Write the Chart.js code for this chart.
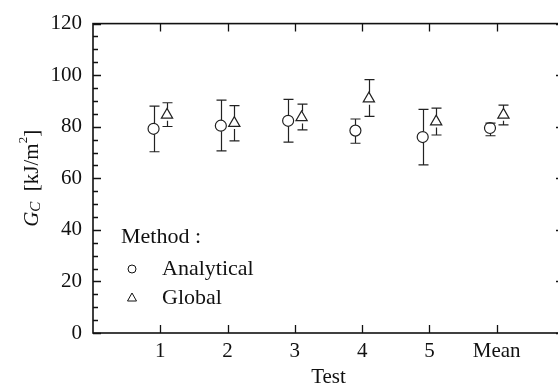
<!DOCTYPE html>
<html lang="en">
<head>
    <meta charset="UTF-8">
    <title>G_C per test</title>
    <script src="https://cdn.jsdelivr.net/npm/chart.js"></script>
    <style>
        html, body { margin: 0; padding: 0; background: white; overflow: hidden; }
        #wrap { width: 580px; height: 390px; }
    </style>
</head>
<body>
<div id="wrap"><canvas id="gcChart" width="580" height="390"></canvas></div>
<script>
    // categories on the x axis
    const categories = ['1', '2', '3', '4', '5', 'Mean'];

    // Analytical method : value and error bar limits
    const analyticalVal  = [79.2, 80.4, 82.3, 78.5, 76.0, 79.5];
    const analyticalLow  = [70.3, 70.6, 74.0, 73.6, 65.2, 76.5];
    const analyticalHigh = [88.0, 90.3, 90.6, 83.0, 86.7, 81.4];

    // Global method
    const globalVal  = [84.6, 81.4, 83.6, 90.9, 82.0, 84.6];
    const globalLow  = [80.1, 74.5, 78.8, 84.0, 76.8, 80.7];
    const globalHigh = [89.3, 88.2, 88.8, 98.3, 87.2, 88.4];

    const yTicks = [0, 20, 40, 60, 80, 100, 120];
    const serif = "'Liberation Serif', 'DejaVu Serif', serif";
    const ink = '#111';

    function points(vals, shift) {
        return vals.map((v, i) => ({ x: i + 1 + shift, y: v }));
    }

    // error bars, spines with inward ticks, y title and legend
    const decorations = {
        id: 'decorations',
        afterDatasetsDraw(chart) {
            const ctx = chart.ctx;
            const xs = chart.scales.x, ys = chart.scales.y;
            const a = chart.chartArea;
            ctx.save();
            ctx.strokeStyle = '#222';
            ctx.lineWidth = 1.2;

            // error bars
            const bars = [
                [-0.1, analyticalLow, analyticalHigh, analyticalVal, 5.5],
                [0.1, globalLow, globalHigh, globalVal, 6]
            ];
            bars.forEach(([shift, lo, hi, val, r]) => {
                lo.forEach((l, i) => {
                    const px = Math.round(xs.getPixelForValue(i + 1 + shift)) + 0.5;
                    const pl = ys.getPixelForValue(l);
                    const ph = ys.getPixelForValue(hi[i]);
                    const pv = ys.getPixelForValue(val[i]);
                    ctx.beginPath();
                    if (ph < pv - r) { ctx.moveTo(px, ph); ctx.lineTo(px, pv - r); }
                    if (pl > pv + r) { ctx.moveTo(px, pv + r); ctx.lineTo(px, pl); }
                    ctx.moveTo(px - 5, ph); ctx.lineTo(px + 5, ph);
                    ctx.moveTo(px - 5, pl); ctx.lineTo(px + 5, pl);
                    ctx.stroke();
                });
            });

            // frame
            ctx.strokeStyle = ink;
            ctx.lineWidth = 1.6;
            ctx.strokeRect(a.left, a.top, a.right - a.left, a.bottom - a.top);

            ctx.lineWidth = 1.3;
            ctx.beginPath();
            categories.forEach((c, i) => {
                const px = Math.round(xs.getPixelForValue(i + 1)) + 0.5;
                ctx.moveTo(px, a.bottom); ctx.lineTo(px, a.bottom - 8);
                ctx.moveTo(px, a.top); ctx.lineTo(px, a.top + 8);
            });
            for (let v = 0; v <= 120; v += 5) {
                const py = Math.round(ys.getPixelForValue(v)) + 0.5;
                const len = v % 20 === 0 ? 8 : 5;
                ctx.moveTo(a.left, py); ctx.lineTo(a.left + len, py);
                ctx.moveTo(a.right, py); ctx.lineTo(a.right - len, py);
            }
            ctx.stroke();

            // y title : G_C [kJ/m^2]
            ctx.fillStyle = ink;
            ctx.translate(32, (a.top + a.bottom) / 2);
            ctx.rotate(-Math.PI / 2);
            ctx.textBaseline = 'middle';
            const parts = [
                ['italic 21px ' + serif, 'G', 0],
                ['italic 15px ' + serif, 'C', 4],
                ['21px ' + serif, '  [kJ/m', 0],
                ['13px ' + serif, '2', -8],
                ['21px ' + serif, ']', 0]
            ];
            let total = 0;
            parts.forEach(p => { ctx.font = p[0]; total += ctx.measureText(p[1]).width; });
            let cx = -total / 2;
            parts.forEach(p => {
                ctx.font = p[0];
                ctx.fillText(p[1], cx, p[2]);
                cx += ctx.measureText(p[1]).width;
            });
            ctx.setTransform(1, 0, 0, 1, 0, 0);

            // legend
            const lx = a.left + 28, ly = a.bottom - 96;
            ctx.font = '22px ' + serif;
            ctx.textBaseline = 'middle';
            ctx.textAlign = 'left';
            ctx.fillText('Method :', lx, ly);
            ctx.lineWidth = 1;
            ctx.strokeStyle = ink;
            ctx.beginPath();
            ctx.arc(lx + 11, ly + 32, 4, 0, Math.PI * 2);
            ctx.stroke();
            ctx.fillText('Analytical', lx + 41, ly + 32);
            ctx.beginPath();
            ctx.moveTo(lx + 11, ly + 56);
            ctx.lineTo(lx + 15.5, ly + 64);
            ctx.lineTo(lx + 6.5, ly + 64);
            ctx.closePath();
            ctx.stroke();
            ctx.fillText('Global', lx + 41, ly + 61);
            ctx.restore();
        }
    };

    new Chart(document.getElementById('gcChart'), {
        type: 'scatter',
        data: {
            datasets: [
                {
                    label: 'Analytical',
                    data: points(analyticalVal, -0.1),
                    pointStyle: 'circle',
                    pointRadius: 5.5,
                    pointBackgroundColor: 'white',
                    pointBorderColor: '#222',
                    pointBorderWidth: 1.2
                },
                {
                    label: 'Global',
                    data: points(globalVal, 0.1),
                    pointStyle: 'triangle',
                    pointRadius: 6.5,
                    pointBackgroundColor: 'white',
                    pointBorderColor: '#222',
                    pointBorderWidth: 1.2
                }
            ]
        },
        options: {
            responsive: false,
            animation: false,
            layout: { padding: { top: 19, right: 16, left: 0, bottom: 0 } },
            plugins: { legend: { display: false }, tooltip: { enabled: false } },
            scales: {
                x: {
                    type: 'linear',
                    min: 0,
                    max: 7,
                    afterBuildTicks: s => { s.ticks = categories.map((c, i) => ({ value: i + 1 })); },
                    afterFit: s => { s.height = 57; },
                    grid: { display: false, drawTicks: false },
                    border: { display: false },
                    ticks: {
                        color: ink,
                        padding: 6,
                        font: { family: serif, size: 21 },
                        callback: v => categories[v - 1]
                    },
                    title: {
                        display: true,
                        text: 'Test',
                        color: ink,
                        padding: { top: 0, bottom: 0 },
                        font: { family: serif, size: 21 }
                    }
                },
                y: {
                    min: 0,
                    max: 120,
                    afterBuildTicks: s => { s.ticks = yTicks.map(v => ({ value: v })); },
                    afterFit: s => { s.width = 93; },
                    grid: { display: false, drawTicks: false },
                    border: { display: false },
                    ticks: {
                        color: ink,
                        padding: 11,
                        font: { family: serif, size: 21 }
                    }
                }
            }
        },
        plugins: [decorations]
    });
</script>
</body>
</html>
